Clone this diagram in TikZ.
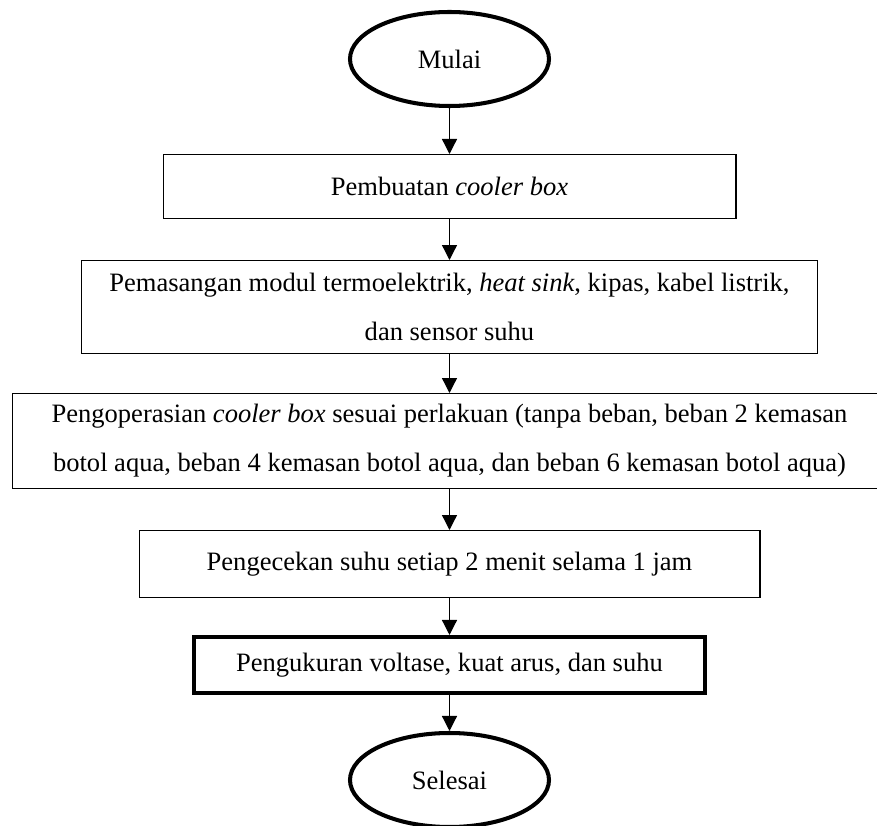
\documentclass[tikz,border=0pt]{standalone}
\usepackage{fontspec}
\setmainfont{Liberation Serif}
\usetikzlibrary{shapes.geometric,arrows.meta}

\begin{document}
\begin{tikzpicture}[font=\fontsize{15.1}{27.9}\selectfont,
  box/.style={draw=black, line width=0.85pt, rectangle, inner sep=0pt, align=center},
  oval/.style={draw=black, line width=2.3pt, ellipse, inner sep=0pt, minimum width=3.98cm, minimum height=1.88cm},
  arr/.style={black, line width=0.75pt, -{Triangle[width=0.3cm,length=0.3cm]}}]

\useasboundingbox (0,0) rectangle (17.54,16.5);

\coordinate (s1) at (8.99,15.32) ;\coordinate (s2) at (8.99,12.77) ;\coordinate (s3) at (8.99,10.36);
\coordinate (s4) at (8.99,7.68) ;\coordinate (s5) at (8.99,5.22) ;\coordinate (s6) at (8.99,3.2);
\coordinate (s7) at (8.99,0.9);

\node [oval] (mulai) at (s1) {Mulai};
\node [box, minimum width=11.45cm, minimum height=1.27cm] (b1) at (s2) {Pembuatan \textit{cooler box}};
\node [box, minimum width=14.71cm, minimum height=1.85cm] (b2) at (s3) {Pemasangan modul termoelektrik, \textit{heat sink}, kipas, kabel listrik,\\ dan sensor suhu};
\node [box, minimum width=17.49cm, minimum height=1.89cm] (b3) at (s4) {Pengoperasian \textit{cooler box} sesuai perlakuan (tanpa beban, beban 2 kemasan\\ botol aqua, beban 4 kemasan botol aqua, dan beban 6 kemasan botol aqua)};
\node [box, minimum width=12.41cm, minimum height=1.33cm] (b4) at (s5) {Pengecekan suhu setiap 2 menit selama 1 jam};
\node [box, line width=2.3pt, minimum width=10.22cm, minimum height=1.12cm] (b5) at (s6) {Pengukuran voltase, kuat arus, dan suhu};
\node [oval] (selesai) at (s7) {Selesai};

\draw[arr] (mulai) -- (b1);
\draw[arr] (b1) -- (b2);
\draw[arr] (b2) -- (b3);
\draw[arr] (b3) -- (b4);
\draw[arr] (b4) -- (b5);
\draw[arr] (b5) -- (selesai);

\end{tikzpicture}
\end{document}
